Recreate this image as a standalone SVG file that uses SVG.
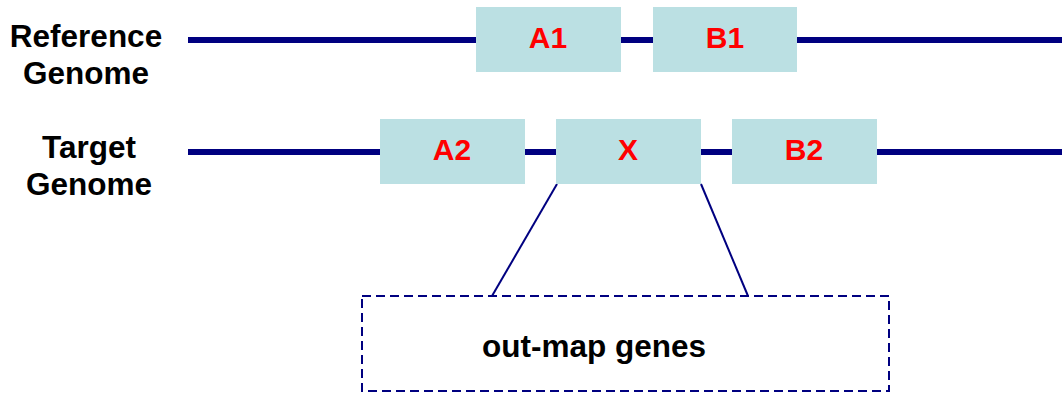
<svg xmlns="http://www.w3.org/2000/svg" width="1062" height="396" viewBox="0 0 1062 396">
  <style>
    .label { font-family: "Liberation Sans", Arial, sans-serif; font-weight: bold; font-size: 31.5px; fill: #000000; text-anchor: middle; }
    .gene { fill: #BBE0E3; stroke: none; }
    .gene-text { font-family: "Liberation Sans", Arial, sans-serif; font-weight: bold; font-size: 30px; fill: #FF0000; text-anchor: middle; }
    .chrom { stroke: #000080; stroke-width: 6; fill: none; }
    .link { stroke: #000080; stroke-width: 2; fill: none; }
    .outmap { fill: none; stroke: #000080; stroke-width: 2; stroke-dasharray: 9 5; }
  </style>

  <rect width="1062" height="396" fill="#FFFFFF"/>

  <!-- genome labels -->
  <g id="label-reference">
    <text class="label" x="86" y="47">Reference</text>
    <text class="label" x="86" y="84">Genome</text>
  </g>
  <g id="label-target">
    <text class="label" x="89" y="158">Target</text>
    <text class="label" x="89" y="195">Genome</text>
  </g>

  <!-- chromosome backbones and links -->
  <g id="connectors">
    <line class="chrom" x1="188" y1="40" x2="1062" y2="40"/>
    <line class="chrom" x1="188" y1="152" x2="1062" y2="152"/>
    <line class="link" x1="557" y1="184" x2="492" y2="296"/>
    <line class="link" x1="701" y1="184" x2="748" y2="296"/>
  </g>

  <!-- reference genes -->
  <g id="gene-A1">
    <rect class="gene" x="476" y="7" width="145" height="65"/>
    <text class="gene-text" x="548" y="48">A1</text>
  </g>
  <g id="gene-B1">
    <rect class="gene" x="653" y="7" width="144" height="65"/>
    <text class="gene-text" x="725" y="48">B1</text>
  </g>

  <!-- target genes -->
  <g id="gene-A2">
    <rect class="gene" x="380" y="119" width="145" height="65"/>
    <text class="gene-text" x="452" y="160">A2</text>
  </g>
  <g id="gene-X">
    <rect class="gene" x="556" y="119" width="145" height="65"/>
    <text class="gene-text" x="628" y="160">X</text>
  </g>
  <g id="gene-B2">
    <rect class="gene" x="732" y="119" width="145" height="65"/>
    <text class="gene-text" x="804" y="160">B2</text>
  </g>

  <!-- expanded region -->
  <g id="out-map-genes">
    <rect class="outmap" x="362" y="296" width="527" height="95"/>
    <text class="label" x="594" y="357">out-map genes</text>
  </g>
</svg>
